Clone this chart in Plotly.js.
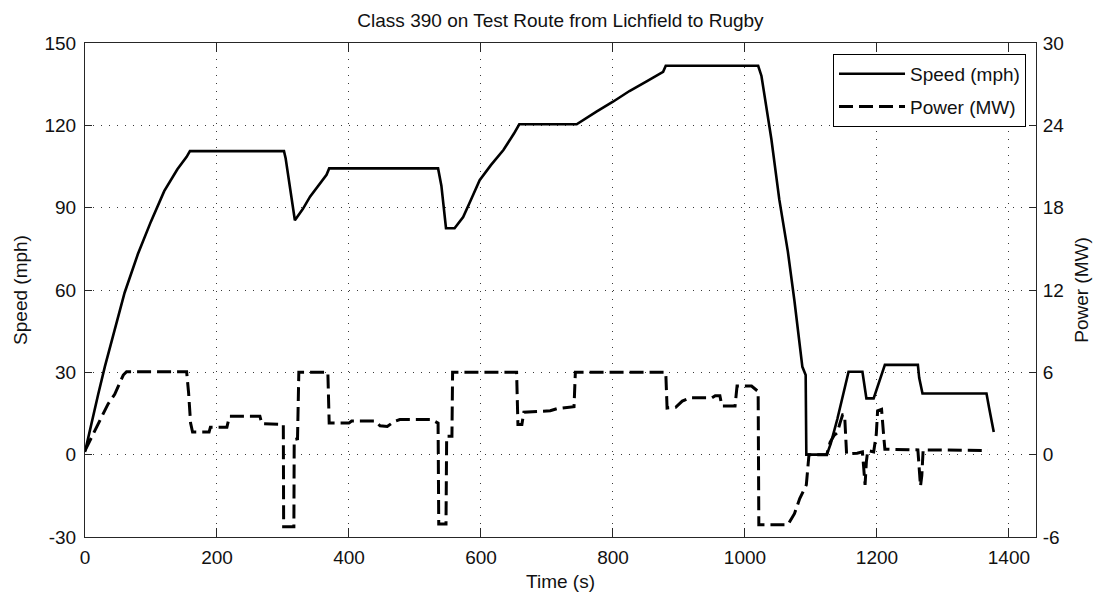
<!DOCTYPE html>
<html>
<head>
<meta charset="utf-8">
<script src="https://cdn.plot.ly/plotly-3.0.1.min.js"></script>
<style>html,body{margin:0;padding:0;background:#fff;}#chart{width:1102px;height:601px;}</style>
</head>
<body>
<div id="chart"></div>
<script>
// Speed (mph) vs time (s)
var speedTime = [0,10,20,30,45,60,80,100,120,140,154,159,301.5,304,318,330,341,355,366,370,535,540,547,560,573,585,598,615,634,650,655,658,745,750,775,800,825,851,871,876,880,1020,1025,1040,1052,1065,1075,1087,1092,1093,1124,1130,1140,1150,1157,1178,1184,1195,1212,1262,1264,1269,1366,1370,1377];
var speedMph  = [1,12,22,32,46,59,73,85,96,104,108.5,110.6,110.6,108,85.4,89.5,94,98.5,102,104.3,104.3,98,82.5,82.5,86.6,93,100,105.5,111,117,119,120.4,120.4,121.2,125,128.6,132.5,136,138.6,139.5,141.7,141.7,138,115,93,74,56,32,29,0,0,4,13,23,30.2,30.2,20.5,20.5,32.7,32.7,28,22.3,22.3,17,8.3];

// Power (MW) vs time (s)
var powerTime = [0,20,35,45,58,63,154,157,160,163,188,190,215,219,265,268,300.5,301,316.5,317,322,324,368,370,400,404,440,447,458,468,477,525,533,535,536,547,548,556,557,654,656,662,665,705,715,735,741,743,880,882,895,905,917,950,955,962,965,985,988,1010,1015,1020,1021,1065,1075,1083,1093,1096,1097,1124,1129,1135,1140,1144,1148,1151,1153,1154,1170,1178,1180,1182,1184,1186,1195,1199,1201,1207,1210,1212,1262,1264,1266,1268,1270,1368];
var powerMW   = [0.3,2.2,3.7,4.4,5.8,6.05,6.05,4.5,2.3,1.65,1.65,2.0,2.0,2.8,2.8,2.25,2.2,-5.25,-5.25,1.1,1.15,6.0,6.0,2.3,2.3,2.45,2.45,2.1,2.05,2.4,2.56,2.56,2.3,2.3,-5.05,-5.05,1.35,1.35,6.0,6.0,2.2,2.2,3.1,3.2,3.35,3.5,3.5,6.0,6.0,3.4,3.45,3.9,4.14,4.14,4.3,4.3,3.55,3.55,5.0,5.0,4.8,4.6,-5.1,-5.1,-4.3,-3.2,-2.2,-0.7,0,0,0.9,1.4,1.6,2.3,2.9,2.9,1.0,0.05,0.1,0.2,-1.0,-2.2,-0.5,0.3,0.2,1.5,3.2,3.3,1.5,0.4,0.35,-1.0,-2.3,-1.5,0.35,0.3];

var xTicks = [0,200,400,600,800,1000,1200,1400];
var yTicks = [-30,0,30,60,90,120,150];
var y2Ticks = [-6,0,6,12,18,24,30];

var axisColor = '#262626';
var gridColor = '#3a3a3a';
var fontFam = '"Liberation Sans", Arial, Helvetica, sans-serif';
var fs = 19;

var traces = [
  {x: speedTime, y: speedMph, type:'scatter', mode:'lines', name:'Speed (mph)', legendgroup:'a',
   line:{color:'#000', width:2.6}, yaxis:'y'},
  {x: powerTime, y: powerMW, type:'scatter', mode:'lines', name:'Power (MW)', legendgroup:'b',
   line:{color:'#000', width:3, dash:'14px,6px'}, yaxis:'y2'}
];

var layout = {
  width:1102, height:601,
  margin:{l:85, r:66, t:43, b:64},
  paper_bgcolor:'#fff', plot_bgcolor:'#fff',
  font:{family:fontFam, size:fs, color:'#111'},
  showlegend:true,
  title:{text:'Class 390 on Test Route from Lichfield to Rugby', x:0.5, xref:'paper', xanchor:'center',
         y:1-20/601, yref:'container', yanchor:'middle', font:{family:fontFam, size:fs, color:'#111'}},
  xaxis:{range:[0,1441], tickvals:xTicks, ticktext:xTicks.map(String), ticks:'inside', ticklen:9, tickwidth:1,
         tickcolor:axisColor, showline:true, linecolor:axisColor, linewidth:1, mirror:'ticks',
         showgrid:true, gridcolor:gridColor, gridwidth:1, griddash:'1px,7px', zeroline:false,
         ticklabelstandoff:3,
         title:{text:'Time (s)', standoff:7, font:{size:fs}}},
  yaxis:{range:[-30,150], tickvals:yTicks, ticktext:yTicks.map(String), ticks:'inside', ticklen:7, tickwidth:1,
         tickcolor:axisColor, showline:true, linecolor:axisColor, linewidth:1, mirror:'ticks',
         showgrid:true, gridcolor:gridColor, gridwidth:1, griddash:'1px,7px', zeroline:false,
         ticklabelstandoff:4,
         title:{text:'Speed (mph)', standoff:11, font:{size:fs}}},
  yaxis2:{range:[-6,30], tickvals:y2Ticks, ticktext:y2Ticks.map(String), overlaying:'y', side:'right',
          ticks:'inside', ticklen:7, tickwidth:1, tickcolor:axisColor, showline:true, linecolor:axisColor,
          linewidth:1, showgrid:false, zeroline:false, ticklabelstandoff:2,
          title:{text:'Power (MW)', standoff:11, font:{size:fs}}},
  legend:{x:0.9895, y:0.978, xanchor:'right', yanchor:'top', xref:'paper', yref:'paper',
          bgcolor:'#fff', bordercolor:'#000', borderwidth:1, font:{size:fs, color:'#111'},
          tracegroupgap:5, itemwidth:66}
};

Plotly.newPlot('chart', traces, layout, {staticPlot:true, displayModeBar:false});
</script>
</body>
</html>
